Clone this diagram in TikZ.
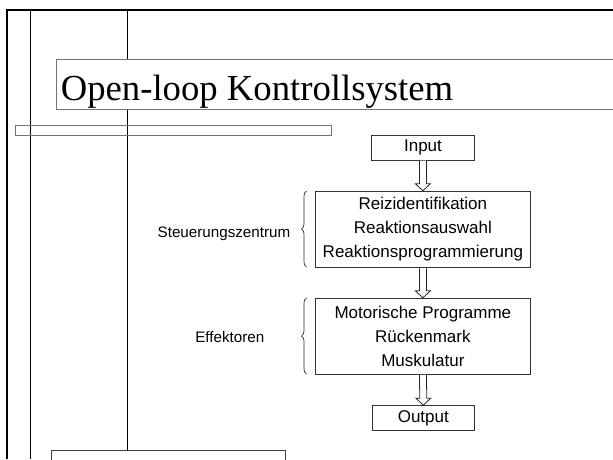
\documentclass[tikz,border=0pt]{standalone}
\usepackage{fontspec}
\setmainfont{Liberation Serif}
\setsansfont{Liberation Sans}
\usetikzlibrary{calc,decorations.pathreplacing}
\tikzset{
  px/.style={x=1pt,y=-1pt},
  frameline/.style={line width=0.9pt,black},
  grayline/.style={line width=1pt,draw=black!55},
  flowbox/.style={draw=black!80,line width=1pt,fill=white,inner sep=0pt,align=center,
    font=\sffamily\fontsize{17}{24}\selectfont},
  sidelabel/.style={inner sep=0pt,font=\sffamily\fontsize{15.2}{18}\selectfont},
  bracestyle/.style={draw=black!80,line width=0.7pt,decorate,decoration={brace,amplitude=5pt}},
  hollow/.style={draw=black!85,line width=0.8pt,fill=white}
}
\newcommand{\hollowarrow}[2]{%
  \draw[hollow] ($(#1.south)+(-3.5,0)$) -- ($(#2.north)+(-3.5,-7)$) -- ($(#2.north)+(-7.5,-7)$)
    -- (#2.north) -- ($(#2.north)+(7.5,-7)$) -- ($(#2.north)+(3.5,-7)$) -- ($(#1.south)+(3.5,0)$);}
\begin{document}
\begin{tikzpicture}[px]
\useasboundingbox (0,0) rectangle (613,459);
\clip (0,0) rectangle (613,459);
\fill[white] (0,0) rectangle (613,459);
% frame lines
\coordinate (tl) at (7,9.5);
\coordinate (tr) at (613,9.5);
\coordinate (bl) at (7,459);
\draw[line width=2pt] (bl) -- (tl) -- (tr);
\coordinate (v1t) at (30.7,9.5);
\coordinate (v1b) at (30.7,459);
\draw[frameline] (v1t) -- (v1b);
\coordinate (v2t) at (127.7,9.5);
\coordinate (v2b) at (127.7,450.7);
\draw[frameline] (v2t) -- (v2b);
% title box
\draw[grayline,fill=white] (56,59) rectangle (640,109.3);
\node[anchor=base west,inner sep=0pt,font=\fontsize{36.7}{40}\selectfont] (title) at (60.6,100) {Open-loop Kontrollsystem};
% bar
\draw[grayline] (15.3,125.3) rectangle (331,135.3);
% bottom box
\draw[grayline,draw=black!75] (51,470) -- (51,450.7) -- (285.7,450.7) -- (285.7,470);
% flow boxes
\node[flowbox,minimum width=102.6pt,minimum height=25pt] (in) at (423,147.5) {Input};
\node[flowbox,minimum width=214.3pt,minimum height=76.5pt] (b1) at (422.9,229.5)
  {Reizidentifikation\\Reaktionsauswahl\\Reaktionsprogrammierung};
\node[flowbox,minimum width=214.3pt,minimum height=76pt] (b2) at (422.9,336.3)
  {Motorische Programme\\Rückenmark\\Muskulatur};
\node[flowbox,minimum width=102pt,minimum height=25.3pt] (out) at (423.3,418.3) {Output};
% arrows
\hollowarrow{in}{b1}
\hollowarrow{b1}{b2}
\hollowarrow{b2}{out}
% braces
\coordinate (br1a) at (306.5,267);
\coordinate (br1b) at (306.5,191);
\draw[bracestyle] (br1a) -- (br1b);
\coordinate (br2a) at (306.5,374);
\coordinate (br2b) at (306.5,298);
\draw[bracestyle] (br2a) -- (br2b);
\node[sidelabel,anchor=base east] (sz) at (290.5,237) {Steuerungszentrum};
\node[sidelabel,anchor=base east] (ef) at (264.5,342.5) {Effektoren};
\end{tikzpicture}
\end{document}
